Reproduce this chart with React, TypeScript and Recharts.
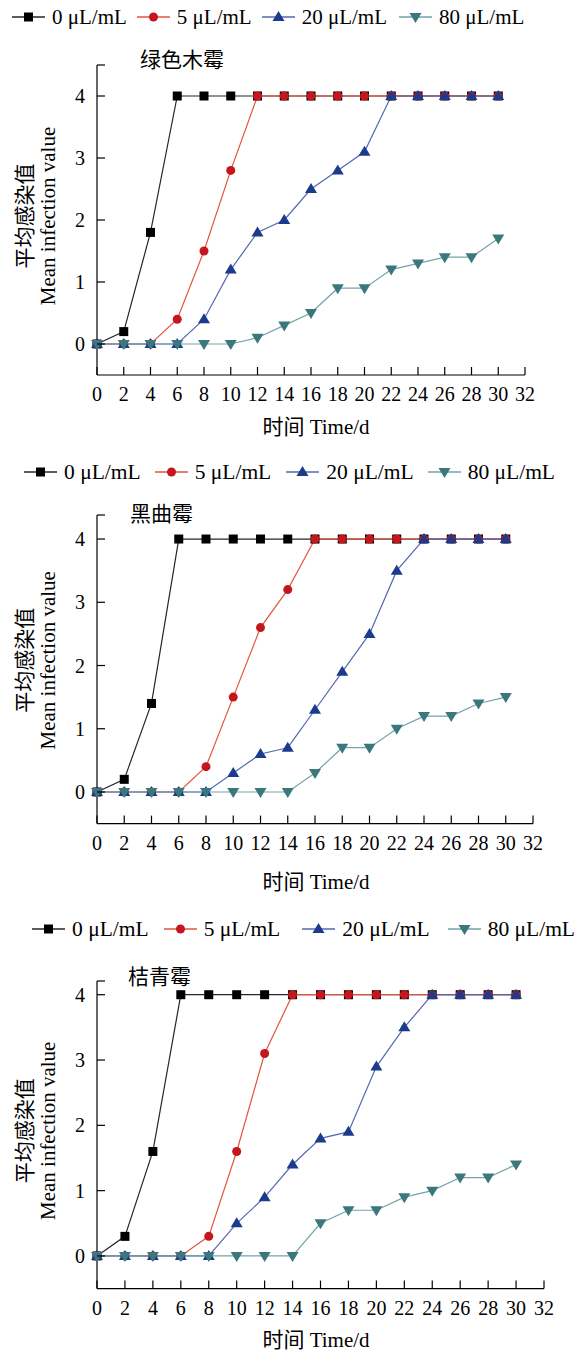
import { LineChart, Line, XAxis, YAxis, Label } from 'recharts';

const days = [0, 2, 4, 6, 8, 10, 12, 14, 16, 18, 20, 22, 24, 26, 28, 30];
const xTicks = [0, 2, 4, 6, 8, 10, 12, 14, 16, 18, 20, 22, 24, 26, 28, 30, 32];
const seriesNames = ['0 μL/mL', '5 μL/mL', '20 μL/mL', '80 μL/mL'];
const yTickValues = [0, 1, 2, 3, 4];

// 绿色木霉
const green0 = [0, 0.2, 1.8, 4, 4, 4, 4, 4, 4, 4, 4, 4, 4, 4, 4, 4];
const green5 = [0, 0, 0, 0.4, 1.5, 2.8, 4, 4, 4, 4, 4, 4, 4, 4, 4, 4];
const green20 = [0, 0, 0, 0, 0.4, 1.2, 1.8, 2.0, 2.5, 2.8, 3.1, 4, 4, 4, 4, 4];
const green80 = [0, 0, 0, 0, 0, 0, 0.1, 0.3, 0.5, 0.9, 0.9, 1.2, 1.3, 1.4, 1.4, 1.7];

// 黑曲霉
const niger0 = [0, 0.2, 1.4, 4, 4, 4, 4, 4, 4, 4, 4, 4, 4, 4, 4, 4];
const niger5 = [0, 0, 0, 0, 0.4, 1.5, 2.6, 3.2, 4, 4, 4, 4, 4, 4, 4, 4];
const niger20 = [0, 0, 0, 0, 0, 0.3, 0.6, 0.7, 1.3, 1.9, 2.5, 3.5, 4, 4, 4, 4];
const niger80 = [0, 0, 0, 0, 0, 0, 0, 0, 0.3, 0.7, 0.7, 1.0, 1.2, 1.2, 1.4, 1.5];

// 桔青霉
const citrin0 = [0, 0.3, 1.6, 4, 4, 4, 4, 4, 4, 4, 4, 4, 4, 4, 4, 4];
const citrin5 = [0, 0, 0, 0, 0.3, 1.6, 3.1, 4, 4, 4, 4, 4, 4, 4, 4, 4];
const citrin20 = [0, 0, 0, 0, 0, 0.5, 0.9, 1.4, 1.8, 1.9, 2.9, 3.5, 4, 4, 4, 4];
const citrin80 = [0, 0, 0, 0, 0, 0, 0, 0, 0.5, 0.7, 0.7, 0.9, 1.0, 1.2, 1.2, 1.4];

const FONT = '"Liberation Serif", "Times New Roman", "Noto Sans CJK SC", serif';

const lineColors = ['#262626', '#e2553f', '#5468b4', '#74a3a6'];
const markColors = ['#000000', '#c4161c', '#1c3b8c', '#3a787d'];

function Marker({ kind, cx, cy, color }: any) {
  if (cx == null || cy == null) return null;
  if (kind === 0) return <rect x={cx - 4.5} y={cy - 4.5} width={9} height={9} fill={color} />;
  if (kind === 1) return <circle cx={cx} cy={cy} r={4.5} fill={color} />;
  if (kind === 2)
    return <polygon points={`${cx},${cy - 6} ${cx - 6},${cy + 4} ${cx + 6},${cy + 4}`} fill={color} />;
  return <polygon points={`${cx - 6},${cy - 4} ${cx + 6},${cy - 4} ${cx},${cy + 6}`} fill={color} />;
}

const XTick = ({ x, y, payload }: any) => (
  <g>
    <line x1={x} y1={y} x2={x} y2={y - 8} stroke="#000" strokeWidth={1.2} />
    <text x={x} y={y + 26} textAnchor="middle" fontSize={20} fontFamily={FONT} fill="#000">
      {payload.value}
    </text>
  </g>
);

const YTick = ({ x, y, payload }: any) => (
  <g>
    <line x1={x} y1={y} x2={x + 8} y2={y} stroke="#000" strokeWidth={1.2} />
    {yTickValues.includes(payload.value) && (
      <text x={x - 12} y={y + 7} textAnchor="end" fontSize={20} fontFamily={FONT} fill="#000">
        {payload.value}
      </text>
    )}
  </g>
);

function LegendRow({ left, top, gaps, size }: any) {
  return (
    <div
      style={{
        position: 'absolute', left, top, display: 'flex', alignItems: 'center',
        fontFamily: FONT, fontSize: size, whiteSpace: 'nowrap', lineHeight: '24px',
      }}
    >
      {seriesNames.map((name, i) => (
        <div key={name} style={{ display: 'flex', alignItems: 'center', gap: 7, marginLeft: i ? gaps[i - 1] : 0 }}>
          <svg width={33} height={14}>
            <line x1={0} y1={7} x2={33} y2={7} stroke={lineColors[i]} strokeWidth={1.5} />
            <Marker kind={i} cx={16.5} cy={7} color={markColors[i]} />
          </svg>
          <span>{name}</span>
        </div>
      ))}
    </div>
  );
}

type PanelProps = {
  title: string;
  series: number[][];
  top: number;
  height: number;
  plotTop: number;
  plotBottom: number;
  plotRight: number;
  yMax: number;
  legendLeft: number;
  legendTop: number;
  legendGaps: number[];
  legendSize: number;
  titleLeft: number;
  titleTop: number;
  xTitleY: number;
  yLabelShift: number;
};

function Panel(p: PanelProps) {
  const data = days.map((d, i) => ({
    day: d,
    s0: p.series[0][i],
    s1: p.series[1][i],
    s2: p.series[2][i],
    s3: p.series[3][i],
  }));
  const mTop = p.plotTop - p.top;
  const mBottom = p.height - (p.plotBottom - p.top) - 60;
  return (
    <>
      <LegendRow left={p.legendLeft} top={p.legendTop} gaps={p.legendGaps} size={p.legendSize} />
      <div
        style={{
          position: 'absolute', left: p.titleLeft, top: p.titleTop, fontSize: 21,
          fontFamily: '"Noto Sans CJK SC", sans-serif', lineHeight: '24px',
        }}
      >
        {p.title}
      </div>
      <div style={{ position: 'absolute', left: 0, top: p.top }}>
        <LineChart
          width={581}
          height={p.height}
          data={data}
          margin={{ top: mTop, right: 581 - p.plotRight, bottom: mBottom, left: 0 }}
        >
          <XAxis
            dataKey="day"
            type="number"
            domain={[0, 32]}
            ticks={xTicks}
            interval={0}
            height={60}
            tickSize={0}
            tickMargin={0}
            tickLine={false}
            tick={<XTick />}
            axisLine={{ stroke: '#000', strokeWidth: 1.2 }}
          >
            <Label
              content={({ viewBox }: any) => (
                <text
                  x={316}
                  y={viewBox.y + p.xTitleY}
                  textAnchor="middle"
                  fontSize={21}
                  fontFamily={FONT}
                  fill="#000"
                >
                  时间 Time/d
                </text>
              )}
            />
          </XAxis>
          <YAxis
            type="number"
            domain={[-0.5, p.yMax]}
            ticks={[...yTickValues, p.yMax]}
            interval={0}
            width={97}
            tickSize={0}
            tickMargin={0}
            tickLine={false}
            tick={<YTick />}
            axisLine={{ stroke: '#000', strokeWidth: 1.2 }}
          >
            <Label
              content={({ viewBox }: any) => {
                const cy = viewBox.y + viewBox.height / 2 + p.yLabelShift;
                return (
                  <g fontFamily={FONT} fontSize={21} fill="#000">
                    <text x={25} y={cy} transform={`rotate(-90, 25, ${cy})`} textAnchor="middle" dominantBaseline="central">
                      平均感染值
                    </text>
                    <text x={48} y={cy} transform={`rotate(-90, 48, ${cy})`} textAnchor="middle" dominantBaseline="central">
                      Mean infection value
                    </text>
                  </g>
                );
              }}
            />
          </YAxis>
          {[0, 1, 2, 3].map((i) => (
            <Line
              key={i}
              type="linear"
              dataKey={`s${i}`}
              name={seriesNames[i]}
              stroke={lineColors[i]}
              strokeWidth={1.2}
              isAnimationActive={false}
              dot={(d: any) => <Marker key={`${i}-${d.index}`} kind={i} cx={d.cx} cy={d.cy} color={markColors[i]} />}
              activeDot={false}
            />
          ))}
        </LineChart>
      </div>
    </>
  );
}

export default function App() {
  return (
    <div
      style={{
        position: 'absolute', left: 0, top: 0, width: 581, height: 1356,
        overflow: 'hidden', background: '#fff', fontFamily: FONT,
      }}
    >
      <Panel
        title="绿色木霉"
        series={[green0, green5, green20, green80]}
        top={0}
        height={450}
        plotTop={65}
        plotBottom={375}
        plotRight={525}
        yMax={4.5}
        legendLeft={12}
        legendTop={5}
        legendGaps={[10, 10, 12]}
        legendSize={21}
        titleLeft={140}
        titleTop={46}
        xTitleY={59}
        yLabelShift={-4}
      />
      <Panel
        title="黑曲霉"
        series={[niger0, niger5, niger20, niger80]}
        top={450}
        height={455}
        plotTop={515}
        plotBottom={823.6}
        plotRight={533}
        yMax={4.38}
        legendLeft={24}
        legendTop={460}
        legendGaps={[14, 15, 14]}
        legendSize={21.5}
        titleLeft={130}
        titleTop={500}
        xTitleY={65}
        yLabelShift={-9}
      />
      <Panel
        title="桔青霉"
        series={[citrin0, citrin5, citrin20, citrin80]}
        top={905}
        height={451}
        plotTop={981}
        plotBottom={1288.6}
        plotRight={544}
        yMax={4.21}
        legendLeft={32}
        legendTop={917}
        legendGaps={[15, 22, 18]}
        legendSize={21.5}
        titleLeft={128}
        titleTop={963}
        xTitleY={58}
        yLabelShift={-4}
      />
    </div>
  );
}
